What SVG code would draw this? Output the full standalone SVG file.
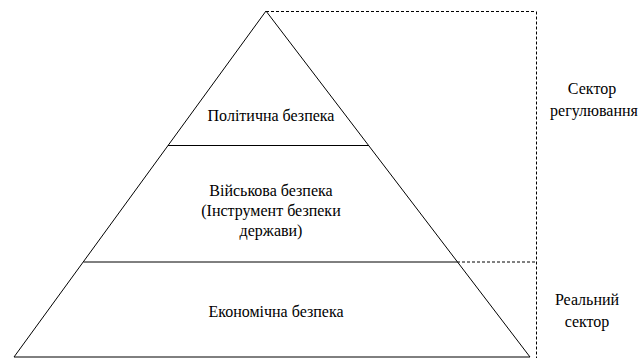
<svg xmlns="http://www.w3.org/2000/svg" width="642" height="363" viewBox="0 0 642 363">
<style>
.s{stroke:#000;stroke-width:1;fill:none}
.d{stroke:#000;stroke-width:1;fill:none;stroke-dasharray:3,2}
.t{font-family:'Liberation Serif','Times New Roman',serif;font-size:16px;fill:#000;text-anchor:middle}
</style>
<rect width="642" height="363" fill="#fff"/>
<g id="connectors">
<polygon class="s" points="266,11 14,357 530,357"/>
<line class="s" x1="168" y1="145.5" x2="369" y2="145.5"/>
<line class="s" x1="83.5" y1="262" x2="457" y2="262"/>
<line class="d" x1="266" y1="11.5" x2="536" y2="11.5"/>
<line class="d" x1="536.5" y1="11.5" x2="536.5" y2="358"/>
<line class="d" x1="457" y1="262" x2="536" y2="262"/>
</g>
<g id="political"><text class="t" x="271" y="121">Політична безпека</text></g>
<g id="military">
<text class="t" x="271" y="196">Військова безпека</text>
<text class="t" x="271" y="216">(Інструмент безпеки</text>
<text class="t" x="271" y="236">держави)</text>
</g>
<g id="economic"><text class="t" x="276" y="317">Економічна безпека</text></g>
<g id="regulation">
<text class="t" x="592" y="94">Сектор</text>
<text class="t" x="594" y="116">регулювання</text>
</g>
<g id="real">
<text class="t" x="587" y="305">Реальний</text>
<text class="t" x="587" y="327">сектор</text>
</g>
</svg>
